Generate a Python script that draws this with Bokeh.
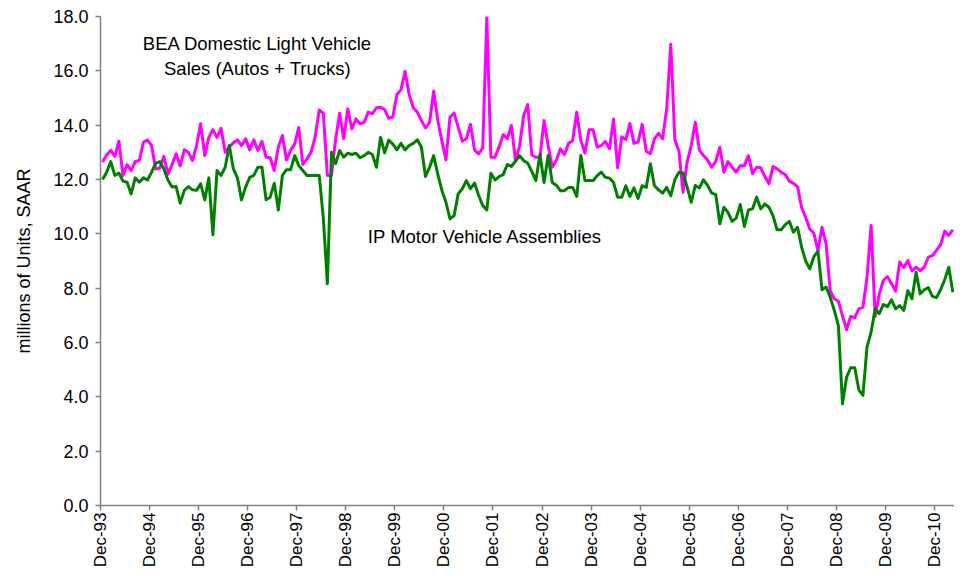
import numpy as np
from bokeh.plotting import figure
from bokeh.models import Range1d, FixedTicker, Label, NumeralTickFormatter
from bokeh.embed import file_html
from bokeh.resources import INLINE

tick_labels = ["Dec-93", "Dec-94", "Dec-95", "Dec-96", "Dec-97", "Dec-98",
               "Dec-99", "Dec-00", "Dec-01", "Dec-02", "Dec-03", "Dec-04",
               "Dec-05", "Dec-06", "Dec-07", "Dec-08", "Dec-09", "Dec-10"]

# BEA Domestic Light Vehicle Sales (Autos + Trucks), monthly Dec-93 .. Apr-11
bea_sales = [
    12.64, 12.90, 13.07, 12.85, 13.41, 12.15, 12.55, 12.33, 12.66, 12.70, 13.37, 13.46,
    13.25, 12.39, 12.42, 12.85, 12.20, 12.55, 12.95, 12.50, 13.09, 13.00, 12.70, 13.25,
    14.05, 12.88, 13.55, 13.83, 13.55, 13.88, 13.00, 13.20, 13.35, 13.46, 13.25, 13.50,
    13.09, 13.46, 13.07, 13.40, 12.82, 12.80, 12.33, 13.19, 13.62, 12.72, 13.07, 13.30,
    13.92, 12.55, 12.76, 13.00, 13.55, 14.56, 14.44, 12.15, 12.15, 13.46, 14.44, 13.50,
    14.60, 13.86, 14.23, 14.05, 14.10, 14.48, 14.42, 14.64, 14.66, 14.57, 14.25, 14.30,
    15.13, 15.30, 15.98, 15.13, 14.64, 14.48, 14.17, 13.90, 14.10, 15.26, 14.17, 13.43,
    12.72, 14.30, 14.45, 13.93, 13.41, 13.50, 14.03, 13.09, 12.94, 13.16, 17.97, 12.82,
    12.82, 13.20, 13.65, 13.50, 13.99, 12.70, 13.21, 14.35, 14.76, 12.90, 12.82, 12.82,
    14.17, 13.25, 12.45, 12.70, 13.13, 12.92, 13.33, 13.43, 14.48, 13.43, 12.97, 13.83,
    13.83, 13.19, 13.25, 13.40, 13.13, 14.23, 12.43, 13.57, 13.47, 14.06, 13.33, 13.38,
    14.03, 13.04, 12.95, 13.50, 13.70, 13.50, 14.60, 16.98, 13.46, 13.04, 11.53, 12.64,
    13.25, 14.11, 13.09, 12.88, 12.72, 12.45, 12.67, 13.19, 12.27, 12.66, 12.45, 12.27,
    12.51, 12.51, 12.88, 12.21, 12.45, 12.43, 12.11, 11.84, 12.48, 12.39, 12.27, 12.18,
    11.94, 11.86, 11.74, 10.96, 10.60, 10.18, 10.02, 9.39, 10.24, 9.63, 7.91, 7.61,
    7.52, 6.99, 6.47, 6.96, 6.91, 7.24, 7.30, 8.40, 10.31, 6.96, 7.79, 8.28,
    8.43, 8.16, 7.89, 8.96, 8.76, 9.02, 8.63, 8.77, 8.65, 8.77, 9.14, 9.20,
    9.39, 9.60, 10.10, 9.94, 10.15,
]

# IP Motor Vehicle Assemblies, monthly Dec-93 .. Apr-11
ip_assemblies = [
    12.00, 12.27, 12.66, 12.15, 12.24, 11.94, 11.90, 11.47, 12.06, 11.90, 12.06, 11.98,
    12.27, 12.60, 12.66, 12.39, 11.98, 11.72, 11.74, 11.13, 11.60, 11.74, 11.62, 11.60,
    11.84, 11.25, 12.06, 9.97, 12.33, 12.15, 12.45, 13.25, 12.39, 12.06, 11.25, 11.72,
    12.08, 12.15, 12.45, 12.45, 11.25, 11.35, 11.86, 10.88, 12.15, 12.36, 12.36, 12.88,
    12.51, 12.33, 12.15, 12.15, 12.15, 12.15, 10.60, 8.16, 13.00, 12.58, 13.07, 12.82,
    12.97, 12.92, 12.97, 12.80, 12.88, 13.00, 12.92, 12.45, 13.55, 12.98, 13.45, 13.30,
    13.09, 13.33, 13.09, 13.25, 13.33, 13.46, 13.19, 12.11, 12.45, 12.88, 12.20, 11.60,
    11.16, 10.55, 10.67, 11.47, 11.66, 11.96, 11.66, 11.87, 11.41, 11.04, 10.88, 12.23,
    11.98, 12.11, 12.18, 12.55, 12.48, 12.67, 12.88, 12.70, 12.60, 12.30, 11.96, 12.92,
    11.89, 12.88, 11.89, 11.79, 11.59, 11.59, 11.71, 11.71, 11.38, 12.88, 11.96, 11.96,
    11.96, 12.14, 12.27, 12.08, 12.05, 11.89, 11.35, 11.35, 11.77, 11.38, 11.69, 11.30,
    11.77, 11.71, 12.58, 11.77, 11.62, 11.50, 11.71, 11.40, 12.00, 12.27, 12.24, 11.72,
    11.16, 11.78, 11.69, 11.99, 11.78, 11.50, 11.45, 10.37, 10.98, 10.79, 10.46, 10.58,
    11.08, 10.27, 10.88, 10.92, 11.35, 10.92, 11.10, 10.98, 10.67, 10.15, 10.15, 10.34,
    10.46, 10.06, 10.24, 9.51, 9.00, 8.71, 9.16, 9.36, 7.94, 8.04, 7.67, 7.18,
    6.62, 3.74, 4.72, 5.07, 5.07, 4.26, 4.05, 5.83, 6.38, 7.24, 7.06, 7.40,
    7.32, 7.57, 7.24, 7.36, 7.18, 7.91, 7.61, 8.59, 7.79, 7.94, 8.02, 7.70,
    7.65, 7.94, 8.31, 8.77, 7.85,
]

y_ticks = [0, 2, 4, 6, 8, 10, 12, 14, 16, 18]

n = len(bea_sales)
x = np.arange(n) + 0.5  # each month centred in its category slot

FONT = "Liberation Sans"

p = figure(width=954, height=571, output_backend="svg", toolbar_location=None,
           x_range=Range1d(0, 208.9), y_range=Range1d(0, 18),
           min_border_left=100, min_border_right=0, min_border_top=16,
           min_border_bottom=66)

p.xgrid.grid_line_color = None
p.ygrid.grid_line_color = None
p.outline_line_color = None
p.background_fill_color = "white"
p.border_fill_color = "white"

tick_pos = [12 * k for k in range(len(tick_labels))]
p.xaxis.ticker = FixedTicker(ticks=tick_pos)
p.xaxis.major_label_overrides = {t: lab for t, lab in zip(tick_pos, tick_labels)}
p.xaxis.major_label_orientation = np.pi / 2

p.yaxis.ticker = FixedTicker(ticks=y_ticks)
p.yaxis.formatter = NumeralTickFormatter(format="0.0")
p.yaxis.axis_label = "millions of Units, SAAR"

for ax in (p.xaxis[0], p.yaxis[0]):
    ax.axis_line_color = "#808080"
    ax.axis_line_width = 1.5
    ax.major_tick_line_color = "#808080"
    ax.major_tick_line_width = 1.5
    ax.major_tick_out = 5
    ax.major_tick_in = 0
    ax.minor_tick_out = 0
    ax.minor_tick_in = 0
    ax.major_label_text_font = FONT
    ax.major_label_text_color = "black"
    ax.axis_label_text_font = FONT
    ax.axis_label_text_font_size = "18px"
    ax.axis_label_text_font_style = "normal"
    ax.axis_label_text_color = "black"

p.xaxis.major_label_text_font_size = "17px"
p.yaxis.major_label_text_font_size = "18px"
p.xaxis.major_label_standoff = 2
p.yaxis.major_label_standoff = 7
p.yaxis.axis_label_standoff = 16

p.line(x, bea_sales, line_color="#FF00FF", line_width=3, line_join="round")
p.line(x, ip_assemblies, line_color="#008000", line_width=3, line_join="round")

for txt, lx, ly, align in [("BEA Domestic Light Vehicle", 38.4, 17.0, "center"),
                           ("Sales (Autos + Trucks)", 38.4, 16.1, "center"),
                           ("IP Motor Vehicle Assemblies", 65.4, 9.92, "left")]:
    p.add_layout(Label(x=lx, y=ly, text=txt, text_font=FONT, text_font_size="18.5px",
                       text_color="black", text_align=align, text_baseline="middle"))

open("out.html", "w").write(file_html(p, INLINE))
